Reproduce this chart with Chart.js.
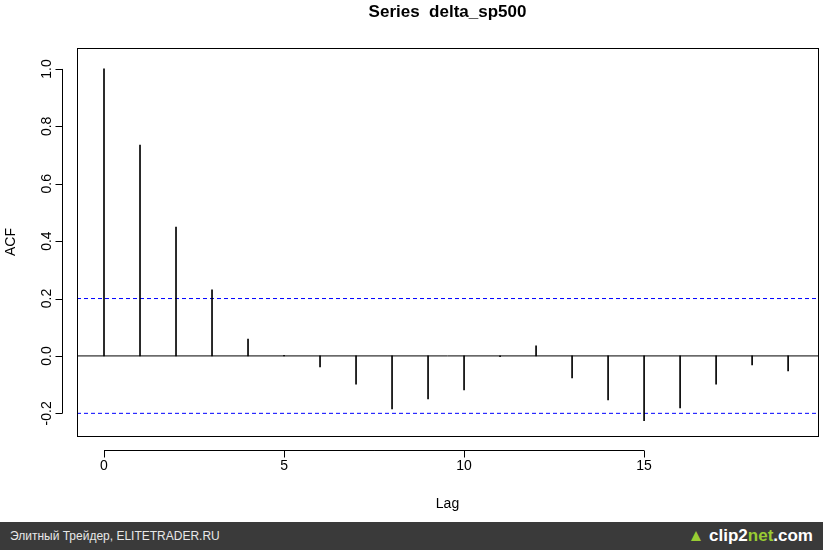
<!DOCTYPE html>
<html><head><meta charset="utf-8">
<script src="https://cdn.jsdelivr.net/npm/chart.js@4"></script>
<style>
html,body{margin:0;padding:0;background:#fff;width:823px;height:550px;overflow:hidden;font-family:"Liberation Sans",Arial,sans-serif}
#wrap{position:absolute;left:0;top:0;width:823px;height:522px}
#foot{position:absolute;left:0;top:522px;width:823px;height:28px;background:#3a3a3a;color:#e8e8e8;font-size:12px}
#foot .l{position:absolute;left:10px;top:7px}
#foot .r{position:absolute;right:10px;top:4px;font-size:17px;font-weight:bold;color:#fff}
#foot .r span{color:#9c3}
</style></head><body>
<div id="wrap"><canvas id="c" width="823" height="522"></canvas></div>
<div id="foot"><div class="l">Элитный Трейдер, ELITETRADER.RU</div><div class="r"><span>▲</span> clip2<span>net</span>.com</div></div>
<script>
const lags=[0,1,2,3,4,5,6,7,8,9,10,11,12,13,14,15,16,17,18,19];
const acf=[1.0,0.735,0.449,0.23,0.059,0.002,-0.038,-0.098,-0.185,-0.15,-0.118,-0.003,0.035,-0.077,-0.153,-0.226,-0.181,-0.098,-0.031,-0.052];
const ci=0.2;
const xTicks=[0,5,10,15];
const yTicks=[-0.2,0.0,0.2,0.4,0.6,0.8,1.0];
const yLabels=["-0.2","0.0","0.2","0.4","0.6","0.8","1.0"];
const title="Series  delta_sp500";
const xMin=-0.75,xMax=19.83;
const font='"Liberation Sans",Arial,sans-serif';
const axesPlugin={id:'ax',afterDraw(ch){
 const c=ch.ctx,a=ch.chartArea,x=ch.scales.x,y=ch.scales.y;
 c.save();c.strokeStyle='#000';c.lineWidth=1;c.fillStyle='#000';
 c.strokeRect(a.left+0.5,a.top+0.5,a.right-a.left,a.bottom-a.top);
 const ay=a.bottom+14.5;
 c.beginPath();c.moveTo(x.getPixelForValue(xTicks[0]),ay);c.lineTo(x.getPixelForValue(xTicks[xTicks.length-1]),ay);
 xTicks.forEach(t=>{const px=Math.round(x.getPixelForValue(t))+0.5;c.moveTo(px,ay);c.lineTo(px,ay+7);});
 c.stroke();
 c.font='14px '+font;c.textAlign='center';c.textBaseline='middle';
 xTicks.forEach(t=>c.fillText(String(t),x.getPixelForValue(t),a.bottom+30));
 c.fillText('Lag',(a.left+a.right)/2,a.bottom+68);
 const ax=a.left-14.5;
 c.beginPath();c.moveTo(ax,y.getPixelForValue(yTicks[0]));c.lineTo(ax,y.getPixelForValue(yTicks[yTicks.length-1]));
 yTicks.forEach(t=>{const py=Math.round(y.getPixelForValue(t))+0.5;c.moveTo(ax,py);c.lineTo(ax-7,py);});
 c.stroke();
 yTicks.forEach((t,i)=>{c.save();c.translate(a.left-30,y.getPixelForValue(t));c.rotate(-Math.PI/2);c.fillText(yLabels[i],0,0);c.restore();});
 c.save();c.translate(a.left-66,(a.top+a.bottom)/2);c.rotate(-Math.PI/2);c.fillText('ACF',0,0);c.restore();
 c.font='bold 17px '+font;c.fillText(title,(a.left+a.right)/2,12);
 c.restore();
}};
new Chart(document.getElementById('c'),{
 data:{datasets:[
  {type:'bar',data:lags.map((l,i)=>({x:l,y:acf[i]})),backgroundColor:'#000',barThickness:1,borderWidth:0},
  {type:'line',data:[{x:xMin,y:0},{x:xMax,y:0}],borderColor:'#000',borderWidth:1,pointRadius:0},
  {type:'line',data:[{x:xMin,y:ci},{x:xMax,y:ci}],borderColor:'#0000ff',borderWidth:1,borderDash:[4,3],pointRadius:0},
  {type:'line',data:[{x:xMin,y:-ci},{x:xMax,y:-ci}],borderColor:'#0000ff',borderWidth:1,borderDash:[4,3],pointRadius:0}
 ]},
 options:{responsive:false,animation:false,events:[],
  layout:{padding:{left:77,top:48,right:5,bottom:86}},
  plugins:{legend:{display:false},tooltip:{enabled:false}},
  scales:{
   x:{type:'linear',min:xMin,max:xMax,offset:false,bounds:'data',display:false},
   y:{type:'linear',min:-0.279,max:1.073,display:false}
  }},
 plugins:[axesPlugin]
});
</script></body></html>
